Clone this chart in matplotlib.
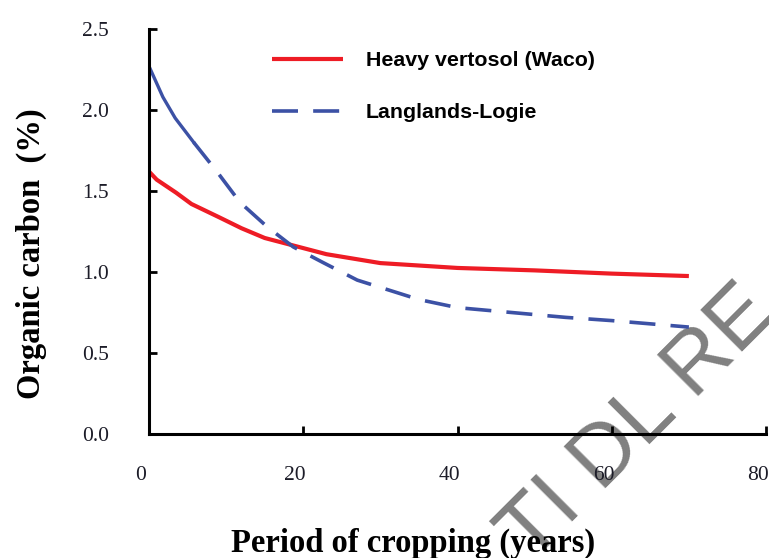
import matplotlib
matplotlib.use("Agg")
import matplotlib.pyplot as plt
import matplotlib.transforms as mtransforms

# period of cropping (years) and organic carbon (%)
waco_years = [0, 1, 3.5, 5.5, 9, 12, 15, 19, 23, 30, 40, 50, 60, 70]
waco_carbon = [1.62, 1.57, 1.49, 1.42, 1.34, 1.27, 1.21, 1.16, 1.11, 1.055, 1.025, 1.01, 0.99, 0.975]

logie_years = [0, 1.8, 3.4, 5.8, 8.8, 11.8, 15.3, 18.7, 22.5, 27, 30, 35, 40, 47, 54, 60, 70]
logie_carbon = [2.27, 2.08, 1.95, 1.80, 1.62, 1.43, 1.28, 1.155, 1.06, 0.95, 0.905, 0.83, 0.78, 0.75, 0.72, 0.70, 0.66]

x_ticks = [0, 20, 40, 60, 80]
y_ticks = [0.0, 0.5, 1.0, 1.5, 2.0, 2.5]

serif = "Liberation Serif"
sans = "Liberation Sans"
red = "#ee1c25"
blue = "#3c51a5"

fig = plt.figure(figsize=(7.69, 5.58), dpi=100)
ax = fig.add_axes([149 / 769, 1 - 434 / 558, 617 / 769, 405 / 558])
ax.patch.set_visible(False)

# watermark behind the plot
fig.text(638 / 769, 1 - 424 / 558, "TI DL RE", fontsize=62, family=sans,
         color="#808080", rotation=45, rotation_mode="anchor",
         ha="center", va="center", zorder=-5)

ax.plot(waco_years, waco_carbon, color=red, lw=3.0, solid_capstyle="butt",
        label="Heavy vertosol (Waco)")
# first part of the Logie curve is drawn solid in the original
ax.plot(logie_years[:4], logie_carbon[:4], color=blue, lw=2.4)
ax.plot(logie_years[3:], logie_carbon[3:], color=blue, lw=2.6,
        dashes=(7.2, 4.2), label="Langlands-Logie")

ax.set_xlim(0, 80)
ax.set_ylim(0, 2.5)
ax.set_xticks(x_ticks)
ax.set_yticks(y_ticks)
ax.set_yticklabels(["%.1f" % v for v in y_ticks])

for s in ["top", "right"]:
    ax.spines[s].set_visible(False)
for s in ["left", "bottom"]:
    ax.spines[s].set_linewidth(2.2)

ax.tick_params(axis="both", direction="in", length=6, width=2.0,
               labelsize=15.5, labelcolor="#1c1c28")
ax.tick_params(axis="x", pad=23)
ax.tick_params(axis="y", pad=29)
shift = mtransforms.ScaledTranslation(-8 / 100, 0, fig.dpi_scale_trans)
for lab in ax.get_xticklabels():
    lab.set_family(serif)
    lab.set_transform(lab.get_transform() + shift)
for lab in ax.get_yticklabels():
    lab.set_family(serif)

ax.set_xlabel("Period of cropping (years)", fontsize=23.5, fontweight="bold",
              family=serif)
ax.xaxis.set_label_coords((413 - 149) / 617, -0.232)
ax.set_ylabel("Organic carbon  (%)", fontsize=23.5, fontweight="bold",
              family=serif)
ax.yaxis.set_label_coords(-0.165, 0.445)

leg = ax.legend(loc="upper left", bbox_to_anchor=((272 - 149) / 617, (434 - 51) / 405),
                frameon=False, borderpad=0, borderaxespad=0, handlelength=3.3,
                handletextpad=1.1, labelspacing=1.55,
                prop={"family": sans, "weight": "bold", "size": 15.4})

fig.savefig("out.png", dpi=100)
